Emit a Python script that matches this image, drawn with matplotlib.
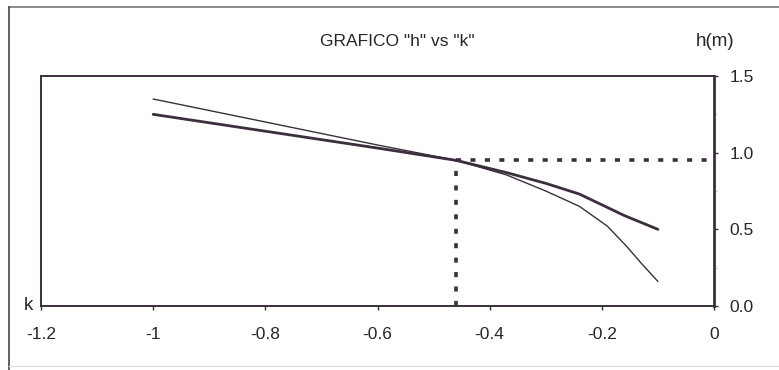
import matplotlib.pyplot as plt
import numpy as np
from matplotlib.lines import Line2D

plt.rcParams['font.family'] = ['Liberation Sans', 'DejaVu Sans']

# Data
k_thin = [-1.0, -0.8, -0.6, -0.46, -0.37, -0.3, -0.24, -0.19, -0.156, -0.13, -0.1]
h_thin = [1.35, 1.20, 1.05, 0.95, 0.855, 0.75, 0.65, 0.52, 0.39, 0.28, 0.16]

k_thick = [-1.0, -0.8, -0.6, -0.46, -0.37, -0.3, -0.24, -0.2, -0.16, -0.1]
h_thick = [1.25, 1.14, 1.03, 0.95, 0.87, 0.80, 0.73, 0.66, 0.59, 0.50]

k_sel = -0.46
h_sel = 0.95

x_ticks = [-1.2, -1.0, -0.8, -0.6, -0.4, -0.2, 0.0]
x_labels = ['-1.2', '-1', '-0.8', '-0.6', '-0.4', '-0.2', '0']
y_ticks = [0.0, 0.5, 1.0, 1.5]
y_labels = ['0.0', '0.5', '1.0', '1.5']

ink = '#3b2f3d'
txt = '#262626'

fig = plt.figure(figsize=(7.79, 3.70), dpi=100)
ax = fig.add_axes([41 / 779, 1 - 306 / 370, (714 - 41) / 779, (306 - 76) / 370])

ax.plot(k_thin, h_thin, color=ink, lw=1.0, solid_capstyle='round')
ax.plot(k_thick, h_thick, color=ink, lw=2.0, solid_capstyle='round')

# guide lines to the chosen point
ax.plot([k_sel, k_sel], [0, h_sel], color=ink, lw=2.6, linestyle=(0, (1.4, 2.6)))
ax.plot([k_sel, 0], [h_sel, h_sel], color=ink, lw=2.6, linestyle=(0, (1.4, 2.6)))

ax.set_xlim(-1.2, 0)
ax.set_ylim(0, 1.5)
ax.set_xticks(x_ticks)
ax.set_xticklabels(x_labels)
ax.set_yticks(y_ticks)
ax.set_yticklabels(y_labels)
ax.set_yticks([0.25, 0.75, 1.25], minor=True)
ax.yaxis.tick_right()
ax.tick_params(axis='x', direction='out', length=3, width=1, color=ink,
               pad=12, labelsize=12.5, labelcolor=txt)
ax.tick_params(axis='y', which='major', direction='out', length=3, width=1, color=ink,
               pad=8, labelsize=12.5, labelcolor=txt)
ax.tick_params(axis='y', which='minor', direction='out', length=2, width=0.6, color='#bbbbbb')

for side in ['top', 'bottom', 'left']:
    ax.spines[side].set_color(ink)
    ax.spines[side].set_linewidth(1.4)
ax.spines['right'].set_color(ink)
ax.spines['right'].set_linewidth(2.0)

fig.text(397 / 779, 1 - 41 / 370, 'GRAFICO "h" vs "k"', ha='center', va='center',
         fontsize=12.5, color=txt)
fig.text(715 / 779, 1 - 41 / 370, 'h(m)', ha='center', va='center',
         fontsize=13.5, color=txt)
fig.text(28 / 779, 1 - 306 / 370, 'k', ha='center', va='center',
         fontsize=13.5, color=txt)

# outer frame of the chart box
fig.add_artist(Line2D([9 / 779, 1], [1 - 7 / 370, 1 - 7 / 370], color='#777777', lw=1.2))
fig.add_artist(Line2D([9 / 779, 9 / 779], [0, 1 - 7 / 370], color='#5a4a5c', lw=1.3))
fig.add_artist(Line2D([9 / 779, 1], [1 - 366 / 370, 1 - 366 / 370], color='#dddddd', lw=1.0))

fig.savefig('out.png', dpi=100)
